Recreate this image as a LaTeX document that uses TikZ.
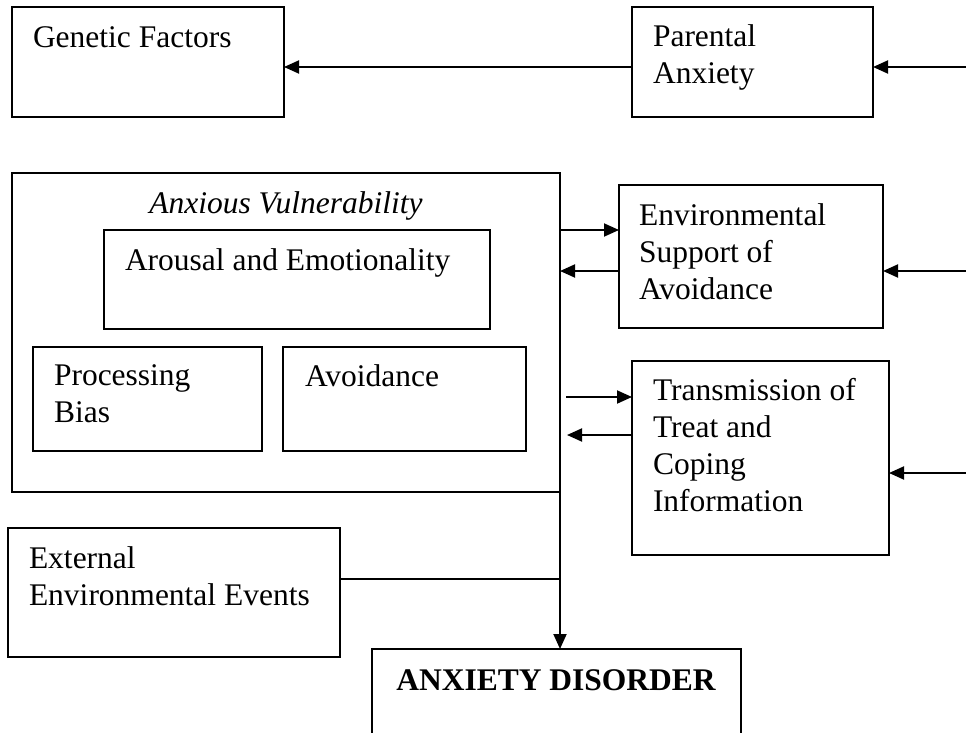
\documentclass[tikz,border=0pt]{standalone}
\usepackage{fontspec}
\setmainfont{Liberation Serif}
\usetikzlibrary{arrows.meta}
\newcommand{\ml}[1]{\begin{tabular}[t]{@{}l@{}}#1\end{tabular}}
\tikzset{
  boxnode/.style={draw, line width=1.9pt, rectangle, inner sep=0pt, outer sep=0pt, anchor=north west},
  txt/.style={inner sep=0pt, outer sep=0pt, anchor=base west, font=\fontsize{31.5}{37}\selectfont},
  conn/.style={line width=1.9pt},
  arr/.style={line width=1.9pt, -{Triangle[length=15pt 0,width=13pt 0]}}
}
\newcommand{\boxat}[5]{%
  \pgfmathsetmacro{\bw}{#4-#2}\pgfmathsetmacro{\bh}{#5-#3}%
  \node[boxnode, minimum width=\bw pt, minimum height=\bh pt] (#1) at (#2,#3) {};}
\begin{document}
\begin{tikzpicture}[x=1pt, y=-1pt]
\clip (0,0) rectangle (966,733);
\useasboundingbox (0,0) rectangle (966,733);

% boxes
\boxat{gen}{12}{7}{284}{117}
\boxat{par}{632}{7}{873}{117}
\boxat{av}{12}{173}{560}{492}
\boxat{aro}{104}{230}{490}{329}
\boxat{proc}{33}{347}{262}{451}
\boxat{avd}{283}{347}{526}{451}
\boxat{env}{619}{185}{883}{328}
\boxat{trans}{632}{361}{889}{555}
\boxat{ext}{8}{528}{340}{657}
\boxat{dis}{372}{649}{741}{770}

% texts
\node[txt] (tgen) at (33,48) {Genetic Factors};
\node[txt] (tpar) at (653,47) {\ml{Parental\\Anxiety}};
\node[txt, anchor=base] (tav) at (286,213) {\itshape Anxious Vulnerability};
\node[txt] (taro) at (125,270) {Arousal and Emotionality};
\node[txt] (tproc) at (54,385) {\ml{Processing\\Bias}};
\node[txt] (tavd) at (305,386) {Avoidance};
\node[txt] (tenv) at (639,225) {\ml{Environmental\\Support of\\Avoidance}};
\node[txt] (ttrans) at (653,400) {\ml{Transmission of\\Treat and\\Coping\\Information}};
\node[txt] (text) at (29,568) {\ml{External\\Environmental Events}};
\node[txt, anchor=base] (tdis) at (556,690) {\bfseries ANXIETY DISORDER};

% free-end coordinates
\coordinate (inpar) at (966,67);
\coordinate (inenv) at (966,271);
\coordinate (intrans) at (966,473);
\coordinate (avout1) at (566,397);
\coordinate (avin2) at (567,435);
\coordinate (avbot) at (560,492);
\coordinate (join) at (560,579);

% connectors
\draw[arr] (par.west |- inpar) -- (gen.east |- inpar);
\draw[arr] (inpar) -- (par.east |- inpar);
\draw[arr] (av.east |- 0,230) -- (env.west |- 0,230);
\draw[arr] (env.west |- inenv) -- (av.east |- inenv);
\draw[arr] (inenv) -- (env.east |- inenv);
\draw[arr] (avout1) -- (trans.west |- avout1);
\draw[arr] (trans.west |- avin2) -- (avin2);
\draw[arr] (intrans) -- (trans.east |- intrans);
\draw[arr] (avbot) -- (dis.north -| avbot);
\draw[conn] (ext.east |- join) -- (join);
\end{tikzpicture}
\end{document}
